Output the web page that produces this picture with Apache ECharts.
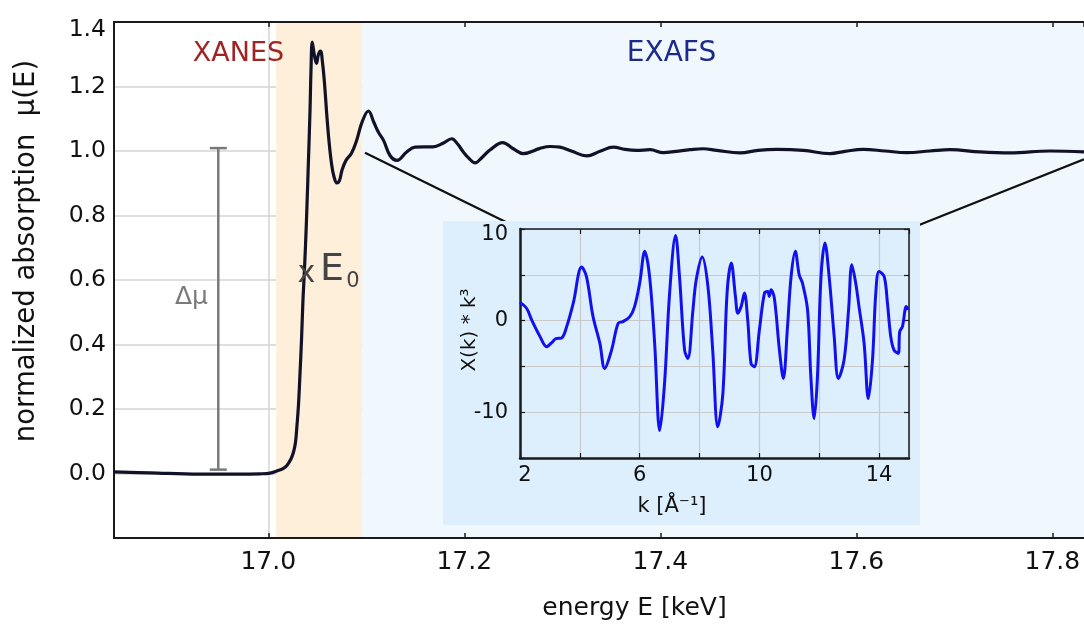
<!DOCTYPE html>
<html>
<head>
<meta charset="utf-8">
<title>XANES / EXAFS</title>
<script src="https://cdn.jsdelivr.net/npm/echarts@6/dist/echarts.min.js"></script>
<style>
    html, body { margin: 0; padding: 0; background: #fff; }
    #main { width: 1084px; height: 627px; }
</style>
</head>
<body>
<div id="main"></div>
<script>
// energy scan, normalized mu(E)
var energy = [16.8426, 16.879, 16.930, 16.971, 16.9915, 17.0017, 17.0089, 17.015, 17.019, 17.023,
    17.0257, 17.0278, 17.0293, 17.0308, 17.0323, 17.0339, 17.0354, 17.0364, 17.038, 17.0395,
    17.041, 17.0426, 17.0436, 17.0449, 17.0471, 17.0492, 17.0512, 17.0533, 17.0553, 17.0573,
    17.0596, 17.0619, 17.0645, 17.067, 17.0701, 17.0727, 17.0752, 17.0793, 17.0849, 17.0902,
    17.0956, 17.1022, 17.1077, 17.1124, 17.1176, 17.1242, 17.1313, 17.1412, 17.1497, 17.1681,
    17.1783, 17.1871, 17.1936, 17.199, 17.2048, 17.211, 17.2181, 17.2262, 17.2392, 17.25,
    17.2602, 17.2772, 17.2874, 17.2977, 17.3099, 17.3249, 17.3385, 17.352, 17.364, 17.3759,
    17.3895, 17.4031, 17.416, 17.4303, 17.4436, 17.4576, 17.4813, 17.4997, 17.5188, 17.5459,
    17.5732, 17.5885, 17.6071, 17.6293, 17.6514, 17.6752, 17.6956, 17.7262, 17.7568, 17.7976,
    17.8323];
var mu = [0.005, 0.002, -0.002, -0.002, -0.001, 0.001, 0.008, 0.015, 0.025, 0.044,
    0.066, 0.097, 0.149, 0.211, 0.304, 0.413, 0.537, 0.599, 0.707, 0.831,
    0.971, 1.126, 1.250, 1.338, 1.296, 1.272, 1.300, 1.310, 1.275, 1.213,
    1.117, 1.033, 0.962, 0.921, 0.901, 0.909, 0.940, 0.971, 0.993, 1.033,
    1.089, 1.124, 1.089, 1.058, 1.033, 0.986, 0.971, 0.997, 1.012, 1.013,
    1.024, 1.038, 1.020, 0.997, 0.977, 0.963, 0.980, 1.003, 1.026, 1.007,
    0.992, 1.008, 1.014, 1.012, 0.999, 0.985, 0.999, 1.012, 1.005, 1.002,
    1.004, 0.995, 0.999, 1.004, 1.007, 1.002, 0.994, 1.002, 1.005, 1.002,
    0.992, 0.999, 1.005, 1.000, 0.995, 1.000, 1.004, 0.997, 0.994, 1.000,
    0.997];

// inset: chi(k) * k^3
var kValues = [2.0, 2.22, 2.39, 2.67, 2.89, 3.06, 3.2, 3.39, 3.56, 3.78,
    4.06, 4.22, 4.44, 4.67, 4.83, 5.06, 5.28, 5.44, 5.67, 5.83,
    6.0, 6.17, 6.33, 6.5, 6.67, 6.83, 7.0, 7.2, 7.33, 7.5,
    7.61, 7.78, 7.89, 8.09, 8.28, 8.44, 8.61, 8.78, 8.92, 9.06,
    9.2, 9.28, 9.39, 9.5, 9.61, 9.72, 9.83, 10.0, 10.17, 10.28,
    10.33, 10.39, 10.5, 10.67, 10.8, 10.94, 11.06, 11.2, 11.33, 11.44,
    11.61, 11.72, 11.83, 11.94, 12.06, 12.19, 12.33, 12.5, 12.64, 12.83,
    12.98, 13.09, 13.22, 13.33, 13.5, 13.64, 13.78, 13.89, 14.0, 14.17,
    14.28, 14.39, 14.5, 14.64, 14.69, 14.78, 14.91, 14.97];
var chiK3 = [1.97, 1.35, 0.07, -1.75, -2.85, -2.41, -1.97, -1.9, -0.66, 1.9,
    5.85, 4.82, 0.44, -2.48, -5.22, -3.22, -0.29, -0.11, 0.44, 1.53,
    4.09, 7.56, 4.82, -2.48, -12.0, -6.87, 3.0, 9.28, 4.82, -3.22,
    -4.13, 1.17, 4.46, 6.94, 3.73, -3.22, -11.6, -7.97, 3.0, 6.28,
    2.63, 0.8, 1.53, 3.0, 0.07, -4.68, -5.04, -1.02, 3.0, 3.18,
    2.63, 3.36, 2.45, -3.22, -6.32, -0.66, 4.82, 7.56, 5.0, 4.09,
    1.17, -6.14, -10.7, -6.14, 4.82, 8.48, 4.82, -1.75, -6.32, -4.31,
    1.17, 6.1, 4.09, 1.53, -2.48, -8.51, -4.31, 3.0, 5.37, 4.82,
    1.9, -1.75, -3.22, -3.58, -1.2, -0.66, 1.53, 1.17];

// regions [from, to] in keV
var xanesRange = [17.008, 17.096];
var exafsRange = [17.096, 17.8323];
// edge step bar: energy, low, high
var deltaMu = [16.949, 0.012, 1.009];

var xMin = 16.8426, xMax = 17.8323;
var FONT = 'DejaVu Sans';

function zip(a, b) {
    var out = [];
    for (var i = 0; i < a.length; i++) out.push([a[i], b[i]]);
    return out;
}

var chart = echarts.init(document.getElementById('main'));

var option = {
    backgroundColor: '#ffffff',
    animation: false,
    grid: [
        {left: 114, top: 22, right: 0, bottom: 89},
        {left: 520, top: 229, width: 389, height: 229}
    ],
    xAxis: [
        {
            type: 'value', gridIndex: 0, min: xMin, max: xMax, splitNumber: 5, z: 1,
            axisLine: {show: true, onZero: false, lineStyle: {color: '#1a1a1a', width: 2}},
            axisTick: {show: true, inside: true, length: 5, lineStyle: {color: '#1a1a1a', width: 1.5}},
            axisLabel: {
                showMinLabel: false, showMaxLabel: false, margin: 12,
                fontSize: 25, fontFamily: FONT, color: '#111',
                formatter: function (v) { return v.toFixed(1); }
            },
            splitLine: {show: true, lineStyle: {color: '#d4d4d4', width: 1.5}}
        },
        {
            type: 'value', gridIndex: 0, position: 'top', min: xMin, max: xMax, splitNumber: 5, z: 1,
            axisLine: {show: true, onZero: false, lineStyle: {color: '#1a1a1a', width: 2}},
            axisTick: {show: true, inside: true, length: 5, lineStyle: {color: '#1a1a1a', width: 1.5}},
            axisLabel: {show: false},
            splitLine: {show: false}
        },
        {
            type: 'value', gridIndex: 1, min: 2, max: 15, interval: 2, z: 4,
            axisLine: {show: true, onZero: false, lineStyle: {color: '#1a1a1a', width: 2.5}},
            axisTick: {show: true, inside: true, length: 5, lineStyle: {color: '#1a1a1a', width: 1.2}},
            axisLabel: {
                margin: 7, fontSize: 21, fontFamily: FONT, color: '#111',
                showMaxLabel: false,
                formatter: function (v) {
                    if (v === 2) return '{first|2}';
                    return ((v - 2) % 4 === 0) ? String(v) : '';
                },
                rich: {first: {padding: [0, 0, 0, 10]}}
            },
            splitLine: {show: true, lineStyle: {color: '#c9c9c9', width: 1.2}}
        },
        {
            type: 'value', gridIndex: 1, position: 'top', min: 2, max: 15, interval: 2, z: 4,
            axisLine: {show: true, onZero: false, lineStyle: {color: '#1a1a1a', width: 1.5}},
            axisTick: {show: true, inside: true, length: 5, lineStyle: {color: '#1a1a1a', width: 1.2}},
            axisLabel: {show: false},
            splitLine: {show: false}
        }
    ],
    yAxis: [
        {
            type: 'value', gridIndex: 0, min: -0.2, max: 1.4, interval: 0.2, z: 1,
            axisLine: {show: true, onZero: false, lineStyle: {color: '#1a1a1a', width: 2}},
            axisTick: {show: false},
            axisLabel: {
                margin: 8, fontSize: 23.5, fontFamily: FONT, color: '#111',
                formatter: function (v) {
                    if (v < -0.01) return '';
                    if (v > 1.39) return '{top|1.4}';
                    return v.toFixed(1);
                },
                rich: {top: {padding: [16, 0, 0, 0]}}
            },
            splitLine: {show: true, lineStyle: {color: '#d4d4d4', width: 1.5}}
        },
        {
            type: 'value', gridIndex: 1, min: -15, max: 10, interval: 5, z: 4,
            axisLine: {show: true, onZero: false, lineStyle: {color: '#1a1a1a', width: 2.5}},
            axisTick: {show: true, inside: true, length: 5, lineStyle: {color: '#1a1a1a', width: 1.2}},
            axisLabel: {
                margin: 12, fontSize: 21, fontFamily: FONT, color: '#111',
                formatter: function (v) {
                    if (v === 10) return '{top|10}';
                    return (v % 10 === 0) ? String(v) : '';
                },
                rich: {top: {padding: [12, 0, 0, 0]}}
            },
            splitLine: {show: true, lineStyle: {color: '#c9c9c9', width: 1.2}}
        },
        {
            type: 'value', gridIndex: 1, position: 'right', min: -15, max: 10, interval: 5, z: 4,
            axisLine: {show: true, onZero: false, lineStyle: {color: '#1a1a1a', width: 1.5}},
            axisTick: {show: true, inside: true, length: 5, lineStyle: {color: '#1a1a1a', width: 1.2}},
            axisLabel: {show: false},
            splitLine: {show: false}
        }
    ],
    series: [
        {
            // shaded XANES / EXAFS regions
            type: 'line', xAxisIndex: 0, yAxisIndex: 0, z: 0,
            data: [], silent: true,
            markArea: {
                silent: true,
                data: [
                    [{xAxis: xanesRange[0], itemStyle: {color: '#fdefd9'}}, {xAxis: xanesRange[1]}],
                    [{xAxis: exafsRange[0], itemStyle: {color: '#f0f8fe'}}, {xAxis: exafsRange[1]}]
                ]
            }
        },
        {
            type: 'custom', xAxisIndex: 0, yAxisIndex: 0, z: 2, silent: true,
            data: [deltaMu],
            renderItem: function (params, api) {
                var lo = api.coord([api.value(0), api.value(1)]);
                var hi = api.coord([api.value(0), api.value(2)]);
                var st = {stroke: '#7a7a7a', lineWidth: 2.5};
                return {
                    type: 'group',
                    children: [
                        {type: 'line', shape: {x1: lo[0], y1: lo[1], x2: hi[0], y2: hi[1]}, style: st},
                        {type: 'line', shape: {x1: lo[0] - 8.5, y1: lo[1], x2: lo[0] + 8.5, y2: lo[1]}, style: st},
                        {type: 'line', shape: {x1: hi[0] - 8.5, y1: hi[1], x2: hi[0] + 8.5, y2: hi[1]}, style: st}
                    ]
                };
            }
        },
        {
            type: 'line', xAxisIndex: 0, yAxisIndex: 0, z: 2,
            data: zip(energy, mu),
            showSymbol: false, smooth: 0.4,
            lineStyle: {color: '#111128', width: 3.2, join: 'round'}
        },
        {
            type: 'line', xAxisIndex: 2, yAxisIndex: 1, z: 5,
            data: zip(kValues, chiK3),
            showSymbol: false, smooth: 0.35,
            lineStyle: {color: '#1111f0', width: 3, join: 'round'}
        }
    ],
    graphic: [
        // zoom lines to the inset and the inset panel
        {type: 'line', z: 2, shape: {x1: 365, y1: 152.7, x2: 520, y2: 229}, style: {stroke: '#111', lineWidth: 2.3}},
        {type: 'line', z: 2, shape: {x1: 909, y1: 229, x2: 1084, y2: 159.3}, style: {stroke: '#111', lineWidth: 2.3}},
        {type: 'rect', z: 3, shape: {x: 443, y: 221, width: 477, height: 304}, style: {fill: '#ddeefc'}},

        {type: 'text', z: 6, x: 238.4, y: 53.7, style: {text: 'XANES', fill: '#a02424', font: '27px "DejaVu Sans"', align: 'center', verticalAlign: 'middle'}},
        {type: 'text', z: 6, x: 671.5, y: 53.7, style: {text: 'EXAFS', fill: '#1c2a8c', font: '28px "DejaVu Sans"', align: 'center', verticalAlign: 'middle'}},
        {type: 'text', z: 6, x: 191.5, y: 297.6, style: {text: 'Δμ', fill: '#7a7a7a', font: '25px "DejaVu Sans"', align: 'center', verticalAlign: 'middle'}},
        {type: 'text', z: 6, x: 306.3, y: 274, style: {text: 'x', fill: '#444', font: '30px "DejaVu Sans"', align: 'center', verticalAlign: 'middle'}},
        {type: 'text', z: 6, x: 320, y: 270.4, style: {text: 'E', fill: '#444', font: '38px "DejaVu Sans"', align: 'left', verticalAlign: 'middle'}},
        {type: 'text', z: 6, x: 353, y: 281.8, style: {text: '0', fill: '#444', font: '21px "DejaVu Sans"', align: 'center', verticalAlign: 'middle'}},

        {type: 'text', z: 6, x: 27, y: 251, rotation: Math.PI / 2, style: {text: 'normalized absorption  μ(E)', fill: '#111', font: '27.5px "DejaVu Sans"', align: 'center', verticalAlign: 'middle'}},
        {type: 'text', z: 6, x: 634.5, y: 608, style: {text: 'energy E [keV]', fill: '#111', font: '25px "DejaVu Sans"', align: 'center', verticalAlign: 'middle'}},
        {type: 'text', z: 6, x: 470, y: 330, rotation: Math.PI / 2, style: {text: 'X(k) * k³', fill: '#111', font: '20px "DejaVu Sans"', align: 'center', verticalAlign: 'middle'}},
        {type: 'text', z: 6, x: 672, y: 506.7, style: {text: 'k [Å⁻¹]', fill: '#111', font: '21px "DejaVu Sans"', align: 'center', verticalAlign: 'middle'}}
    ]
};

chart.setOption(option);
</script>
</body>
</html>
